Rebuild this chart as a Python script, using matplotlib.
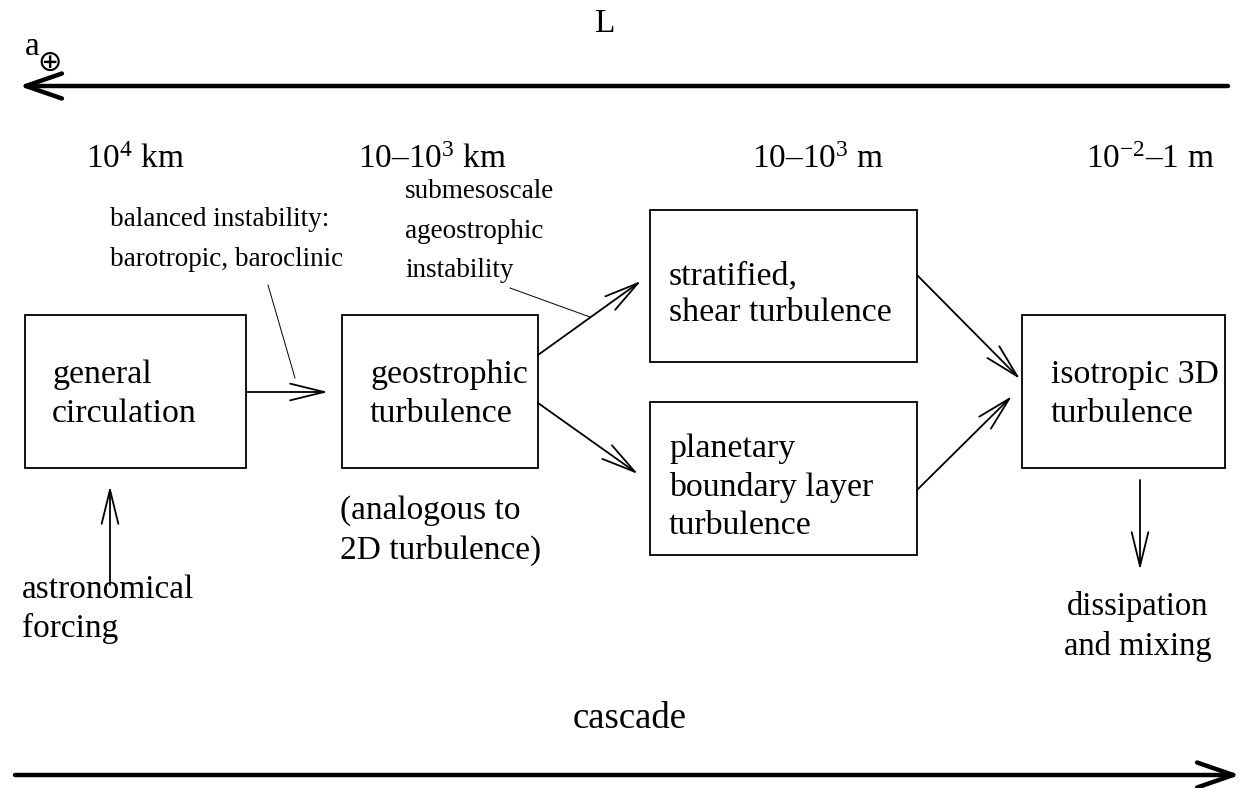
import matplotlib.pyplot as plt

plt.rcParams['font.family'] = ['Liberation Serif', 'DejaVu Sans']
plt.rcParams['mathtext.fontset'] = 'custom'
plt.rcParams['mathtext.rm'] = 'Liberation Serif'
plt.rcParams['mathtext.it'] = 'Liberation Serif:italic'

# boxes: (left, top, right, bottom) in pixels, label lines inside
box_edges = [(25, 315, 246, 468), (342, 315, 538, 468), (650, 210, 917, 362),
             (650, 402, 917, 555), (1022, 315, 1225, 468)]
box_labels = [['general', 'circulation'],
              ['geostrophic', 'turbulence'],
              ['stratified,', 'shear turbulence'],
              ['planetary', 'boundary layer', 'turbulence'],
              ['isotropic 3D', 'turbulence']]
# first baseline of each label
label_base = [383, 383, 284, 457, 383]
label_pad = [27, 28, 19, 19, 29]

# scale labels across the top
scale_x = [135, 432, 818, 1150]
scale_labels = ['10$^4$ km', '10–10$^3$ km', '10–10$^3$ m', '10$^{-2}$–1 m']

# flow arrows: (tail, tip)
flows = [((246, 392), (328, 392)),
         ((538, 355), (641, 281)),
         ((538, 403), (638, 474)),
         ((917, 275), (1020, 379)),
         ((917, 490), (1012, 396)),
         ((110, 585), (110, 486)),
         ((1140, 480), (1140, 570))]

# leader lines from annotations
leaders = [((268, 285), (295, 378)), ((510, 288), (590, 317))]

# free text: (x, first baseline, lines, ha, size)
notes = [(110, 226, ['balanced instability:', 'barotropic, baroclinic'], 'left', 19.5),
         (405, 198, ['submesoscale', 'ageostrophic', 'instability'], 'left', 19.5),
         (22, 598, ['astronomical', 'forcing'], 'left', 24),
         (340, 519, ['(analogous to', '2D turbulence)'], 'left', 24),
         (1138, 615, ['dissipation', 'and mixing'], 'center', 23.5)]

fig = plt.figure(figsize=(12.48, 7.88), dpi=100)
ax = fig.add_axes([0, 0, 1, 1])
ax.set_xlim(0, 1248)
ax.set_ylim(788, 0)
ax.axis('off')

for (x0, y0, x1, y1), lines, yb, pad in zip(box_edges, box_labels, label_base, label_pad):
    ax.add_patch(plt.Rectangle((x0, y0), x1 - x0, y1 - y0, fill=False,
                               lw=1.3, ec='black'))
    step = 37 if len(lines) == 2 and y0 < 300 else 38.5
    for i, line in enumerate(lines):
        ax.text(x0 + pad, yb + i * step, line, fontsize=24.4, ha='left',
                va='baseline')

for x, lab in zip(scale_x, scale_labels):
    ax.text(x, 168, lab, fontsize=24, ha='center', va='baseline')

for tail, tip in flows:
    ax.annotate('', xy=tip, xytext=tail,
                arrowprops=dict(arrowstyle='->,head_length=2.45,head_width=0.6',
                                lw=1.3, color='black', shrinkA=0, shrinkB=0))

for (xa, ya), (xb, yb) in leaders:
    ax.plot([xa, xb], [ya, yb], color='black', lw=0.7)

for x, y, lines, ha, size in notes:
    for i, line in enumerate(lines):
        ax.text(x, y + i * 39.5, line, fontsize=size, ha=ha, va='baseline')

# big scale arrows
ax.annotate('', xy=(19, 86), xytext=(1228, 86),
            arrowprops=dict(arrowstyle='->,head_length=2.6,head_width=0.9',
                            lw=3.2, color='black', shrinkA=0, shrinkB=0))
ax.annotate('', xy=(1240, 775), xytext=(15, 775),
            arrowprops=dict(arrowstyle='->,head_length=2.6,head_width=0.9',
                            lw=3.2, color='black', shrinkA=0, shrinkB=0))

ax.text(25, 55, 'a', fontsize=24, ha='left', va='baseline')
ax.text(37, 71, '\u2295', fontsize=21, ha='left', va='baseline',
        family=['DejaVu Sans'])
ax.text(605, 32, 'L', fontsize=24, ha='center', va='baseline')
ax.text(630, 728, 'cascade', fontsize=26.5, ha='center', va='baseline')

fig.savefig('out.png', dpi=100)
